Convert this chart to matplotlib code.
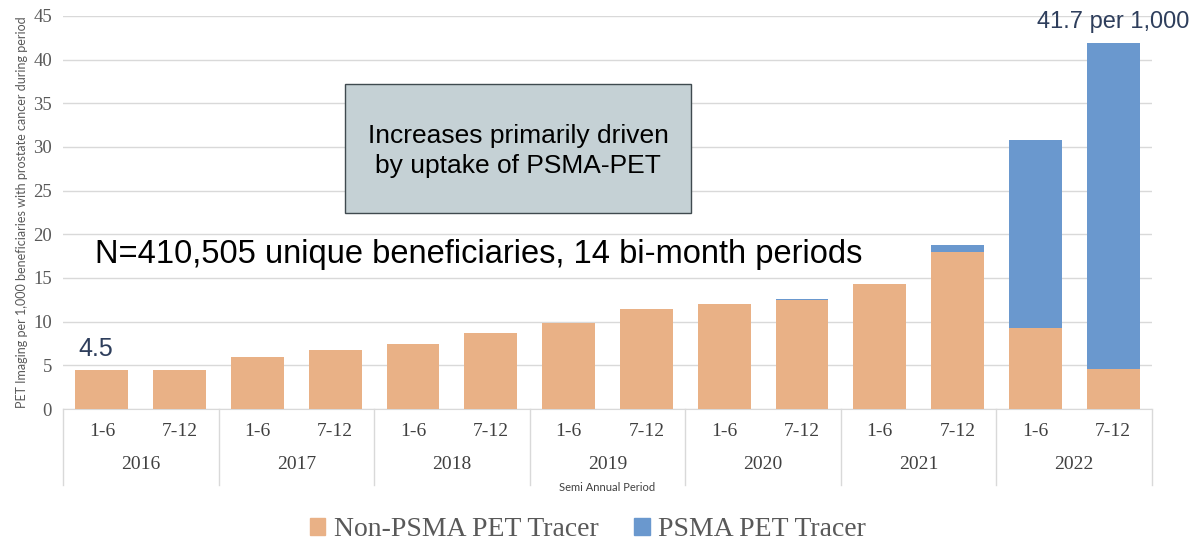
import numpy as np
import matplotlib.pyplot as plt
from matplotlib.patches import Rectangle, Patch
import matplotlib.transforms as mtransforms

# datos
years = ["2016", "2017", "2018", "2019", "2020", "2021", "2022"]
halves = ["1-6", "7-12"]
non_psma = [4.5, 4.5, 5.9, 6.8, 7.4, 8.7, 9.8, 11.4, 12.0, 12.5, 14.3, 18.0, 9.3, 4.6]
psma = [0, 0, 0, 0, 0, 0, 0, 0, 0, 0.15, 0, 0.8, 21.5, 37.3]

c_non = '#E9B186'
c_psma = '#6A98CE'
serif = 'Liberation Serif'
sans = 'Liberation Sans'

fig = plt.figure(figsize=(12, 5.49), dpi=100)
ax = fig.add_axes([0.0525, 0.255, 0.9075, 0.716])

x = np.arange(len(non_psma))
ax.bar(x, non_psma, width=0.68, color=c_non, zorder=3)
ax.bar(x, psma, width=0.68, bottom=non_psma, color=c_psma, zorder=3)

ax.set_xlim(-0.5, len(x) - 0.5)
ax.set_ylim(0, 45)
ax.set_yticks(np.arange(0, 46, 5))
ax.yaxis.grid(True, color='#D9D9D9', lw=1, zorder=0)
for s in ['top', 'right', 'left']:
    ax.spines[s].set_visible(False)
ax.spines['bottom'].set_color('#D9D9D9')
ax.tick_params(axis='y', length=0, labelsize=13.5, labelcolor='#595959', pad=8)
for lab in ax.get_yticklabels():
    lab.set_fontfamily(serif)
ax.set_xticks([])
ax.set_ylabel("PET Imaging per 1,000 beneficiaries with prostate cancer during period",
              fontsize=9, color='#595959', family='Lato', labelpad=4)

# eje x de dos niveles
trans = mtransforms.blended_transform_factory(ax.transData, ax.transAxes)
for i in range(len(x)):
    ax.text(i, -0.058, halves[i % 2], transform=trans, ha='center', va='center',
            fontsize=14, family=serif, color='#404040')
for j, yr in enumerate(years):
    ax.text(2 * j + 0.5, -0.142, yr, transform=trans, ha='center', va='center',
            fontsize=14, family=serif, color='#404040')
for b in np.arange(-0.5, len(x), 2):
    ax.plot([b, b], [0, -0.193], transform=trans, color='#D9D9D9', lw=1, clip_on=False)
ax.text(0.5, -0.2, "Semi Annual Period", transform=ax.transAxes, ha='center', va='center',
        fontsize=8, family='Lato', color='#404040')

# anotaciones
ax.text(-0.3, 6.1, "4.5", ha='left', va='baseline', fontsize=18, family=sans, color='#2E3E5C')
ax.text(13, 43.6, "41.7 per 1,000", ha='center', va='baseline', fontsize=17, family=sans,
        color='#2E3E5C', clip_on=False)
ax.text(0.029, 0.392, "N=410,505 unique beneficiaries, 14 bi-month periods",
        transform=ax.transAxes, ha='left', va='center', fontsize=23.5, family=sans, color='black')
ax.add_patch(Rectangle((0.259, 0.499), 0.318, 0.328, transform=ax.transAxes,
                       facecolor='#C5D1D5', edgecolor='#3F4A4F', lw=1, zorder=4))
ax.text(0.418, 0.657, "Increases primarily driven\nby uptake of PSMA-PET", transform=ax.transAxes,
        ha='center', va='center', fontsize=19, family=sans, color='black', zorder=5,
        linespacing=1.3)

handles = [Patch(color=c_non, label="Non-PSMA PET Tracer"),
           Patch(color=c_psma, label="PSMA PET Tracer")]
fig.legend(handles=handles, loc='center', bbox_to_anchor=(0.49, 0.035), ncol=2, frameon=False,
           prop={'family': serif, 'size': 20}, handlelength=0.55, handleheight=0.55,
           handletextpad=0.3, columnspacing=1.3, labelcolor='#595959')

plt.savefig("out.png", dpi=100)
